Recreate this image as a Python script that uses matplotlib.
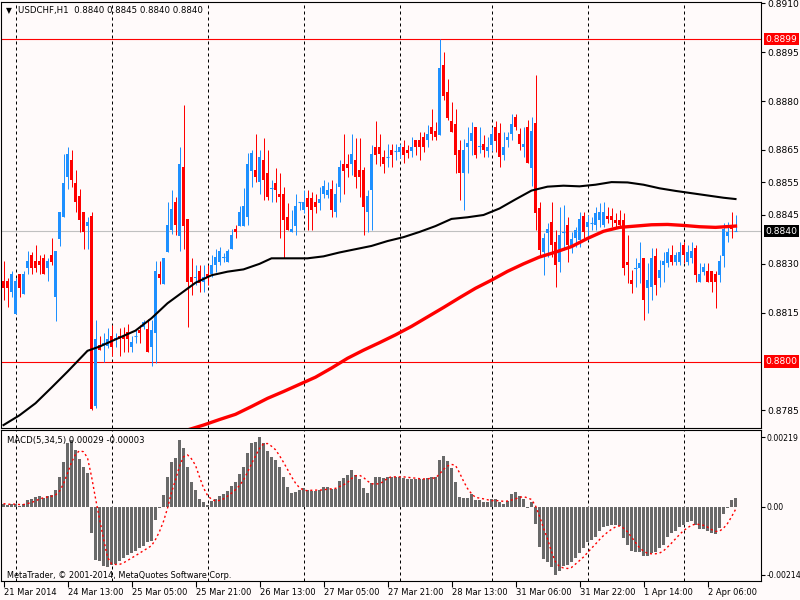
import numpy as np
import pandas as pd
import matplotlib
matplotlib.use('Agg')
import matplotlib.pyplot as plt
from matplotlib import transforms

# ---------------- data ----------------
opens = [0.88248, 0.88248, 0.88214, 0.88147, 0.88269, 0.88206, 0.88286, 0.88327, 0.88309, 0.88309,
         0.88317, 0.88286, 0.88327, 0.88197, 0.88376, 0.88445, 0.88567, 0.88619, 0.88547, 0.88509,
         0.88458, 0.88417, 0.88447, 0.87865, 0.88051, 0.88051, 0.88049, 0.88079, 0.88066, 0.88079,
         0.88079, 0.88090, 0.88046, 0.88079, 0.88097, 0.88107, 0.88100, 0.88046, 0.88087, 0.88269,
         0.88237, 0.88337, 0.88404, 0.88489, 0.88386, 0.88598, 0.88437, 0.88260, 0.88256, 0.88278,
         0.88245, 0.88268, 0.88268, 0.88296, 0.88306, 0.88319, 0.88306, 0.88347, 0.88407, 0.88417,
         0.88417, 0.88445, 0.88585, 0.88588, 0.88552, 0.88619, 0.88578, 0.88530, 0.88547, 0.88516,
         0.88516, 0.88445, 0.88397, 0.88417, 0.88489, 0.88465, 0.88501, 0.88501, 0.88491, 0.88486,
         0.88513, 0.88511, 0.88530, 0.88458, 0.88537, 0.88608, 0.88608, 0.88608, 0.88619, 0.88588,
         0.88588, 0.88458, 0.88527, 0.88660, 0.88660, 0.88629, 0.88627, 0.88649, 0.88646, 0.88644,
         0.88660, 0.88649, 0.88647, 0.88680, 0.88680, 0.88690, 0.88680, 0.88721, 0.88708, 0.88696,
         0.88910, 0.88829, 0.88740, 0.88729, 0.88649, 0.88578, 0.88660, 0.88678, 0.88721, 0.88659,
         0.88668, 0.88647, 0.88665, 0.88721, 0.88701, 0.88634, 0.88680, 0.88699, 0.88750, 0.88699,
         0.88658, 0.88719, 0.88593, 0.88731, 0.88471, 0.88337, 0.88394, 0.88430, 0.88368, 0.88307,
         0.88395, 0.88419, 0.88356, 0.88378, 0.88373, 0.88447, 0.88414, 0.88424, 0.88419, 0.88435,
         0.88419, 0.88447, 0.88447, 0.88435, 0.88435, 0.88435, 0.88307, 0.88250, 0.88285, 0.88286,
         0.88317, 0.88225, 0.88230, 0.88324, 0.88256, 0.88297, 0.88304, 0.88327, 0.88307, 0.88307,
         0.88358, 0.88307, 0.88317, 0.88348, 0.88245, 0.88276, 0.88279, 0.88279, 0.88269, 0.88266,
         0.88324, 0.88386, 0.88419, 0.88400]
highs = [0.88310, 0.88258, 0.88279, 0.88258, 0.88269, 0.88279, 0.88339, 0.88337, 0.88358, 0.88327,
         0.88329, 0.88317, 0.88378, 0.88339, 0.88460, 0.88636, 0.88659, 0.88649, 0.88588, 0.88530,
         0.88458, 0.88445, 0.88460, 0.88127, 0.88079, 0.88087, 0.88102, 0.88112, 0.88087, 0.88102,
         0.88107, 0.88114, 0.88079, 0.88097, 0.88112, 0.88127, 0.88131, 0.88127, 0.88309, 0.88310,
         0.88317, 0.88491, 0.88528, 0.88506, 0.88659, 0.88787, 0.88437, 0.88317, 0.88296, 0.88298,
         0.88298, 0.88296, 0.88327, 0.88347, 0.88352, 0.88332, 0.88347, 0.88407, 0.88419, 0.88478,
         0.88532, 0.88639, 0.88649, 0.88700, 0.88649, 0.88685, 0.88649, 0.88557, 0.88593, 0.88578,
         0.88537, 0.88486, 0.88465, 0.88516, 0.88491, 0.88527, 0.88527, 0.88521, 0.88516, 0.88537,
         0.88557, 0.88552, 0.88557, 0.88547, 0.88619, 0.88700, 0.88636, 0.88700, 0.88685, 0.88685,
         0.88598, 0.88527, 0.88665, 0.88740, 0.88700, 0.88649, 0.88668, 0.88668, 0.88668, 0.88668,
         0.88680, 0.88665, 0.88690, 0.88680, 0.88706, 0.88706, 0.88726, 0.88777, 0.88737, 0.88989,
         0.88951, 0.88869, 0.88798, 0.88777, 0.88680, 0.88682, 0.88721, 0.88737, 0.88721, 0.88721,
         0.88696, 0.88690, 0.88721, 0.88740, 0.88731, 0.88706, 0.88706, 0.88760, 0.88760, 0.88716,
         0.88721, 0.88742, 0.88750, 0.88880, 0.88491, 0.88394, 0.88425, 0.88491, 0.88404, 0.88476,
         0.88481, 0.88445, 0.88399, 0.88414, 0.88460, 0.88460, 0.88450, 0.88445, 0.88476, 0.88486,
         0.88491, 0.88476, 0.88471, 0.88455, 0.88466, 0.88455, 0.88389, 0.88281, 0.88317, 0.88368,
         0.88317, 0.88302, 0.88348, 0.88348, 0.88312, 0.88337, 0.88348, 0.88358, 0.88337, 0.88368,
         0.88368, 0.88358, 0.88368, 0.88358, 0.88302, 0.88302, 0.88302, 0.88279, 0.88279, 0.88327,
         0.88425, 0.88430, 0.88460, 0.88450]
lows = [0.88189, 0.88166, 0.88197, 0.88147, 0.88197, 0.88206, 0.88268, 0.88268, 0.88276, 0.88268,
        0.88268, 0.88247, 0.88298, 0.88126, 0.88356, 0.88445, 0.88530, 0.88537, 0.88458, 0.88397,
        0.88347, 0.88347, 0.87850, 0.87856, 0.88036, 0.87999, 0.88041, 0.88018, 0.88044, 0.88018,
        0.88028, 0.88028, 0.88028, 0.88056, 0.88056, 0.88100, 0.88028, 0.87987, 0.87997, 0.88238,
        0.88237, 0.88337, 0.88393, 0.88388, 0.88340, 0.88347, 0.88107, 0.88204, 0.88235, 0.88215,
        0.88215, 0.88235, 0.88261, 0.88276, 0.88296, 0.88306, 0.88306, 0.88347, 0.88378, 0.88417,
        0.88417, 0.88419, 0.88537, 0.88552, 0.88516, 0.88496, 0.88496, 0.88491, 0.88491, 0.88378,
        0.88317, 0.88404, 0.88397, 0.88388, 0.88465, 0.88455, 0.88404, 0.88404, 0.88455, 0.88465,
        0.88501, 0.88501, 0.88445, 0.88445, 0.88491, 0.88516, 0.88567, 0.88573, 0.88532, 0.88506,
        0.88388, 0.88399, 0.88404, 0.88608, 0.88600, 0.88578, 0.88598, 0.88598, 0.88619, 0.88625,
        0.88609, 0.88624, 0.88627, 0.88634, 0.88619, 0.88644, 0.88660, 0.88680, 0.88680, 0.88696,
        0.88803, 0.88742, 0.88706, 0.88578, 0.88496, 0.88465, 0.88578, 0.88634, 0.88624, 0.88639,
        0.88629, 0.88629, 0.88647, 0.88644, 0.88598, 0.88619, 0.88660, 0.88680, 0.88711, 0.88649,
        0.88629, 0.88609, 0.88540, 0.88404, 0.88322, 0.88266, 0.88322, 0.88322, 0.88228, 0.88276,
        0.88343, 0.88307, 0.88332, 0.88353, 0.88353, 0.88378, 0.88373, 0.88404, 0.88404, 0.88414,
        0.88414, 0.88425, 0.88414, 0.88409, 0.88409, 0.88266, 0.88240, 0.88210, 0.88230, 0.88240,
        0.88128, 0.88148, 0.88189, 0.88205, 0.88230, 0.88245, 0.88289, 0.88297, 0.88297, 0.88297,
        0.88302, 0.88297, 0.88302, 0.88245, 0.88245, 0.88266, 0.88245, 0.88215, 0.88163, 0.88245,
        0.88289, 0.88368, 0.88378, 0.88400]
closes = [0.88227, 0.88227, 0.88269, 0.88248, 0.88227, 0.88269, 0.88309, 0.88286, 0.88286, 0.88298,
          0.88268, 0.88309, 0.88307, 0.88339, 0.88460, 0.88547, 0.88636, 0.88557, 0.88489, 0.88434,
          0.88397, 0.88429, 0.87854, 0.88069, 0.88036, 0.88056, 0.88069, 0.88046, 0.88071, 0.88069,
          0.88069, 0.88069, 0.88059, 0.88080, 0.88087, 0.88122, 0.88028, 0.88097, 0.88278, 0.88258,
          0.88317, 0.88419, 0.88468, 0.88419, 0.88608, 0.88417, 0.88245, 0.88245, 0.88261, 0.88240,
          0.88261, 0.88258, 0.88298, 0.88322, 0.88339, 0.88321, 0.88339, 0.88388, 0.88397, 0.88458,
          0.88478, 0.88608, 0.88639, 0.88567, 0.88629, 0.88557, 0.88506, 0.88532, 0.88527, 0.88506,
          0.88434, 0.88404, 0.88407, 0.88478, 0.88491, 0.88491, 0.88475, 0.88465, 0.88475, 0.88499,
          0.88539, 0.88527, 0.88465, 0.88516, 0.88598, 0.88585, 0.88595, 0.88636, 0.88567, 0.88567,
          0.88475, 0.88509, 0.88636, 0.88634, 0.88636, 0.88607, 0.88629, 0.88634, 0.88647, 0.88658,
          0.88634, 0.88639, 0.88660, 0.88660, 0.88660, 0.88660, 0.88699, 0.88699, 0.88690, 0.88900,
          0.88816, 0.88747, 0.88706, 0.88634, 0.88578, 0.88649, 0.88670, 0.88701, 0.88634, 0.88661,
          0.88649, 0.88660, 0.88699, 0.88678, 0.88627, 0.88660, 0.88690, 0.88729, 0.88719, 0.88668,
          0.88668, 0.88609, 0.88709, 0.88457, 0.88343, 0.88378, 0.88406, 0.88358, 0.88297, 0.88389,
          0.88397, 0.88358, 0.88375, 0.88404, 0.88437, 0.88399, 0.88430, 0.88426, 0.88457, 0.88460,
          0.88460, 0.88437, 0.88435, 0.88425, 0.88419, 0.88286, 0.88297, 0.88238, 0.88287, 0.88302,
          0.88189, 0.88250, 0.88317, 0.88235, 0.88281, 0.88310, 0.88337, 0.88307, 0.88327, 0.88337,
          0.88327, 0.88337, 0.88340, 0.88266, 0.88269, 0.88289, 0.88245, 0.88245, 0.88245, 0.88310,
          0.88406, 0.88399, 0.88406, 0.88400]

# moving averages (read at sample bars)
ma_black_bar = [0, 4, 8, 12, 16, 21, 24, 28, 33, 37, 41, 45, 48, 52, 56, 60, 64, 67, 76, 80,
                84, 88, 92, 96, 100, 104, 108, 112, 116, 120, 124, 128, 132, 136, 140, 144,
                148, 152, 156, 160, 164, 168, 172, 176, 180, 183]
ma_black_val = [0.87805, 0.87835, 0.87872, 0.87920, 0.87969, 0.88033, 0.88046, 0.88068, 0.88095,
                0.88133, 0.88179, 0.88215, 0.88242, 0.88265, 0.88276, 0.88283, 0.88300, 0.88317,
                0.88317, 0.88323, 0.88335, 0.88345, 0.88355, 0.88370, 0.88382, 0.88398, 0.88416,
                0.88438, 0.88443, 0.88450, 0.88470, 0.88498, 0.88525, 0.88537, 0.88540, 0.88538,
                0.88543, 0.88551, 0.88550, 0.88543, 0.88532, 0.88524, 0.88517, 0.88510, 0.88503,
                0.88499]
ma_red_bar = [46, 50, 54, 58, 62, 66, 70, 74, 78, 82, 86, 90, 94, 98, 102, 106, 110, 114, 118,
              122, 126, 130, 134, 138, 142, 146, 150, 154, 158, 162, 166, 170, 174, 178, 183]
ma_red_val = [0.87790, 0.87805, 0.87822, 0.87838, 0.87862, 0.87887, 0.87908, 0.87930, 0.87952,
              0.87980, 0.88010, 0.88035, 0.88058, 0.88082, 0.88108, 0.88137, 0.88166, 0.88196,
              0.88225, 0.88250, 0.88277, 0.88300, 0.88321, 0.88336, 0.88353, 0.88378, 0.88400,
              0.88412, 0.88416, 0.88420, 0.88421, 0.88418, 0.88414, 0.88412, 0.88416]

# MACD main line, in units of 0.00001
macd_main_1e5 = [10, 5, 10, 8, 2, 10, 21, 26, 32, 34, 28, 34, 37, 53, 95, 142, 200, 210, 179, 152,
                 126, 105, -82, -168, -171, -186, -189, -184, -179, -171, -161, -152, -147, -140,
                 -131, -123, -112, -108, -42, -5, 37, 95, 142, 154, 210, 186, 126, 79, 53, 26, 14,
                 7, 18, 26, 35, 39, 49, 66, 79, 102, 126, 171, 200, 203, 219, 200, 175, 158, 147,
                 126, 95, 63, 42, 47, 53, 58, 53, 49, 49, 53, 63, 63, 55, 56, 81, 91, 100, 116, 100,
                 89, 58, 42, 74, 95, 95, 92, 95, 95, 95, 95, 91, 89, 87, 89, 87, 87, 91, 95, 95,
                 147, 161, 144, 121, 79, 32, 28, 28, 39, 21, 21, 16, 14, 24, 24, 14, 10, 18, 39,
                 45, 35, 24, -3, 14, -55, -126, -165, -173, -189, -214, -202, -186, -182, -173,
                 -161, -147, -129, -112, -105, -95, -77, -65, -60, -58, -58, -60, -100, -119, -140,
                 -144, -142, -154, -154, -147, -144, -131, -119, -95, -84, -77, -63, -58, -49, -45,
                 -58, -70, -70, -77, -84, -87, -66, -24, -3, 21, 29]

price_ticks = [0.8910, 0.8895, 0.8880, 0.8865, 0.8855, 0.8845, 0.8830, 0.8815, 0.8785]
level_red = [0.8899, 0.8800]
level_current = 0.8840
macd_ticks = [0.00219, 0.0, -0.00214]
macd_tick_labels = ['0.00219', '0.00', '-0.00214']

day_start_bars = [3, 27, 51, 75, 99, 122, 146, 170]
time_label_bars = [0, 16, 32, 48, 64, 80, 96, 112, 128, 144, 160, 176]
time_labels = ['21 Mar 2014', '24 Mar 13:00', '25 Mar 05:00', '25 Mar 21:00', '26 Mar 13:00',
               '27 Mar 05:00', '27 Mar 21:00', '28 Mar 13:00', '31 Mar 06:00', '31 Mar 22:00',
               '1 Apr 14:00', '2 Apr 06:00']

title_text = 'USDCHF,H1  0.8840 0.8845 0.8840 0.8840'
macd_text = 'MACD(5,34,5) 0.00029 -0.00003'
copyright_text = 'MetaTrader, \u00a9 2001-2014, MetaQuotes Software Corp.'

# ---------------- figure ----------------
BG = '#FFFAFA'
UP = '#1E90FF'
DN = '#FF0000'
W, H = 800, 600
fig = plt.figure(figsize=(8, 6), dpi=100, facecolor=BG)
ax = fig.add_axes([1 / W, 1 - 428 / H, 760 / W, 426 / H], facecolor=BG)
ax2 = fig.add_axes([1 / W, 1 - 581 / H, 760 / W, 151 / H], facecolor=BG)

o = np.array(opens); h = np.array(highs); l = np.array(lows); c = np.array(closes)
idx = np.arange(len(o))
up = c >= o
cols = np.where(up, UP, DN)

for a in (ax, ax2):
    for s in a.spines.values():
        s.set_color('black')
        s.set_linewidth(0.8)
    a.set_xlim(-0.625, 189.375)
    for b in day_start_bars:
        a.axvline(b, color='black', lw=0.72, ls=(0, (3, 3)), zorder=0.5)

# horizontal levels
for lv in level_red:
    ax.axhline(lv, color='red', lw=0.8, zorder=1)
ax.axhline(level_current, color='#C0C0C0', lw=0.8, zorder=1)

# candles
ax.vlines(idx, l, h, colors=cols, lw=0.72, zorder=3)
body_lo = np.minimum(o, c)
body_h = np.abs(c - o)
ax.bar(idx, body_h, bottom=body_lo, width=0.75, color=cols, linewidth=0, zorder=4)
doji = body_h < 0.00004
ax.hlines(c[doji], idx[doji] - 0.375, idx[doji] + 0.375, colors=cols[doji], lw=0.8, zorder=4)

# moving averages
ax.plot(ma_black_bar, ma_black_val, color='black', lw=1.5, zorder=5)
ax.plot(ma_red_bar, ma_red_val, color='red', lw=2.4, zorder=5)

ax.set_ylim(0.87796, 0.89104)
ax.set_xticks([])
ax.yaxis.tick_right()
ax.set_yticks(price_ticks)
ax.set_yticklabels(['%.4f' % t for t in price_ticks])
ax.tick_params(axis='y', direction='out', length=3, width=0.8, pad=1.5, labelsize=6.6,
               colors='black')

blend = transforms.blended_transform_factory(ax.transAxes, ax.transData)
for lv, fc in [(level_red[0], 'red'), (level_current, 'black'), (level_red[1], 'red')]:
    ax.annotate('%.4f' % lv, xy=(1, lv), xycoords=blend, xytext=(3.2, 0),
                textcoords='offset points', ha='left', va='center', fontsize=6.6,
                color='white', annotation_clip=False,
                bbox=dict(boxstyle='square,pad=0.18', fc=fc, ec='none'), zorder=10)

# MACD panel
macd = np.array(macd_main_1e5) * 1e-5
signal = pd.Series(macd).rolling(5, min_periods=1).mean().values
ax2.bar(idx, macd, width=0.75, color='#696969', linewidth=0, zorder=2)
ax2.plot(idx, signal, color='red', lw=1.0, ls=(0, (1.5, 2.0)), zorder=3)
ax2.set_ylim(-0.00234, 0.00242)
ax2.yaxis.tick_right()
ax2.set_yticks(macd_ticks)
ax2.set_yticklabels(macd_tick_labels)
ax2.tick_params(axis='y', direction='out', length=3, width=0.8, pad=1.0, labelsize=5.6)
ax2.set_xticks(time_label_bars)
ax2.set_xticklabels(time_labels)
for t in ax2.get_xticklabels():
    t.set_ha('left')
ax2.tick_params(axis='x', direction='out', length=4, width=0.8, pad=1.0, labelsize=6.0)

# texts
fig.text(9 / W, 1 - 11 / H, '\u25bc', ha='center', va='center', fontsize=5.5, color='black')
fig.text(18 / W, 1 - 11 / H, title_text, ha='left', va='center', fontsize=6.2, color='black')
fig.text(7 / W, 1 - 440 / H, macd_text, ha='left', va='center', fontsize=6.1, color='black')
fig.text(7 / W, 1 - 575 / H, copyright_text, ha='left', va='center', fontsize=5.9, color='black')

fig.savefig('out.png', dpi=100, facecolor=BG)
